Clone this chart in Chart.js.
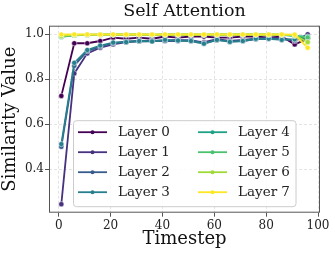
<!DOCTYPE html>
<html>
<head>
<meta charset="utf-8">
<script src="https://cdn.jsdelivr.net/npm/chart.js@4.4.1/dist/chart.umd.min.js"></script>
<style>
  html, body { margin: 0; padding: 0; background: #fff; }
  #wrap { width: 335px; height: 254px; }
</style>
</head>
<body>
<div id="wrap"><canvas id="myChart" width="335" height="254"></canvas></div>
<script>
// data
const timesteps = [1, 6, 11, 16, 21, 26, 31, 36, 41, 46, 51, 56, 61, 66, 71, 76, 81, 86, 91, 96];
const layer0 = [0.726, 0.960, 0.960, 0.970, 0.985, 0.980, 0.985, 0.980, 0.990, 0.985, 0.990, 0.990, 0.985, 0.985, 0.990, 0.990, 0.985, 0.990, 0.955, 0.980];
const layer1 = [0.245, 0.826, 0.915, 0.940, 0.955, 0.965, 0.968, 0.970, 0.972, 0.975, 0.970, 0.965, 0.978, 0.970, 0.975, 0.980, 0.985, 0.982, 0.970, 1.000];
const layer2 = [0.500, 0.860, 0.925, 0.945, 0.960, 0.968, 0.970, 0.972, 0.970, 0.970, 0.975, 0.960, 0.975, 0.968, 0.970, 0.978, 0.980, 0.978, 0.975, 0.985];
const layer3 = [0.512, 0.873, 0.930, 0.950, 0.963, 0.965, 0.970, 0.968, 0.975, 0.972, 0.970, 0.958, 0.975, 0.966, 0.970, 0.980, 0.980, 0.975, 0.978, 0.985];
const layer4 = [0.988, 0.995, 0.997, 0.998, 0.998, 0.998, 0.998, 0.997, 0.998, 0.998, 0.998, 0.997, 0.998, 0.998, 0.998, 0.998, 0.998, 0.997, 0.992, 0.990];
const layer5 = [0.990, 0.996, 0.997, 0.998, 0.998, 0.998, 0.998, 0.998, 0.998, 0.998, 0.998, 0.998, 0.998, 0.998, 0.998, 0.998, 0.998, 0.998, 0.994, 0.985];
const layer6 = [0.992, 0.997, 0.998, 0.998, 0.999, 0.999, 0.999, 0.998, 0.999, 0.999, 0.999, 0.998, 0.999, 0.999, 0.999, 0.999, 0.999, 0.998, 0.995, 0.965];
const layer7 = [0.999, 0.999, 0.999, 0.999, 0.999, 0.999, 0.999, 0.999, 0.999, 0.999, 0.999, 0.999, 0.999, 0.999, 0.999, 0.999, 0.999, 0.999, 0.998, 0.940];
const layerNames = ["Layer 0", "Layer 1", "Layer 2", "Layer 3", "Layer 4", "Layer 5", "Layer 6", "Layer 7"];
const layerValues = [layer0, layer1, layer2, layer3, layer4, layer5, layer6, layer7];
const xTicks = [0, 20, 40, 60, 80, 100];
const yTicks = [0.4, 0.6, 0.8, 1.0];

const colors = ["#440154", "#46327e", "#365c8d", "#277f8e", "#1fa187", "#4ac16d", "#a0da39", "#fde725"];
const serif = "'DejaVu Serif', serif";

// full box round the plot, like matplotlib spines
const boxPlugin = {
  id: 'box',
  afterDatasetsDraw(chart) {
    const a = chart.chartArea, ctx = chart.ctx;
    ctx.save();
    ctx.strokeStyle = '#555';
    ctx.lineWidth = 1;
    ctx.strokeRect(a.left + 0.5, a.top + 0.5, a.right - a.left - 1, a.bottom - a.top - 1);
    ctx.restore();
  }
};

// legend inside the axes, two columns
const innerLegend = {
  id: 'innerLegend',
  afterDraw(chart) {
    const ctx = chart.ctx, a = chart.chartArea;
    const x0 = a.left + 24.5, y0 = a.top + 95, w = 222.5, h = 86;
    ctx.save();
    ctx.beginPath();
    ctx.roundRect(x0, y0, w, h, 3);
    ctx.fillStyle = 'rgba(255,255,255,0.85)';
    ctx.fill();
    ctx.strokeStyle = '#cccccc';
    ctx.lineWidth = 1;
    ctx.stroke();
    chart.data.datasets.forEach((ds, i) => {
      const col = Math.floor(i / 4), row = i % 4;
      const lx = x0 + 4.5 + col * 120, ly = y0 + 11.5 + row * 20;
      ctx.strokeStyle = ds.borderColor;
      ctx.lineWidth = 1.8;
      ctx.beginPath();
      ctx.moveTo(lx, ly);
      ctx.lineTo(lx + 29, ly);
      ctx.stroke();
      ctx.fillStyle = ds.borderColor;
      ctx.beginPath();
      ctx.arc(lx + 14.5, ly, 2, 0, Math.PI * 2);
      ctx.fill();
      ctx.fillStyle = '#222';
      ctx.font = '13.5px ' + serif;
      ctx.textBaseline = 'middle';
      ctx.fillText(ds.label, lx + 40, ly + 0.5);
    });
    ctx.restore();
  }
};

const datasets = layerValues.map((vals, i) => ({
  label: layerNames[i],
  data: timesteps.map((t, k) => ({ x: t, y: vals[k] })),
  borderColor: colors[i],
  backgroundColor: colors[i],
  borderWidth: 1.8,
  pointRadius: 2.6,
  pointBorderColor: '#ffffff',
  pointBorderWidth: 0.5,
  pointBackgroundColor: colors[i],
  fill: false,
  tension: 0,
  order: 7 - i
}));

const chart = new Chart(document.getElementById('myChart'), {
  type: 'line',
  data: { datasets: datasets },
  options: {
    responsive: false,
    animation: false,
    devicePixelRatio: 1,
    layout: { padding: { left: 0, right: 15, top: 0, bottom: 0 } },
    plugins: {
      legend: { display: false },
      tooltip: { enabled: false },
      title: {
        display: true,
        text: 'Self Attention',
        fullSize: false,
        color: '#111',
        font: { family: serif, size: 17.5, weight: 'normal' },
        padding: { top: 1, bottom: 3.7 }
      }
    },
    scales: {
      x: {
        type: 'linear',
        min: -3.75,
        max: 100.75,
        afterBuildTicks: s => { s.ticks = xTicks.map(v => ({ value: v })); },
        afterFit: s => { s.height = 41.3; },
        ticks: { color: '#222', font: { family: serif, size: 12 }, padding: 2, maxRotation: 0, autoSkip: false },
        grid: { color: '#e3e3e3', tickColor: '#555', tickLength: 4, lineWidth: 1 },
        border: { display: false, dash: [3, 2] },
        title: { display: true, text: 'Timestep', color: '#111', font: { family: serif, size: 18 }, padding: { top: 0, bottom: 4 } }
      },
      y: {
        min: 0.207,
        max: 1.038,
        afterBuildTicks: s => { s.ticks = yTicks.map(v => ({ value: v })); },
        afterFit: s => { s.width = 49; },
        ticks: { color: '#222', font: { family: serif, size: 12 }, padding: 1, callback: v => v.toFixed(1) },
        grid: { color: '#e3e3e3', tickColor: '#555', tickLength: 4, lineWidth: 1 },
        border: { display: false, dash: [3, 2] },
        title: { display: true, text: 'Similarity Value', color: '#111', font: { family: serif, size: 18 }, padding: { top: 0, bottom: 0 } }
      }
    }
  },
  plugins: [boxPlugin, innerLegend]
});
</script>
</body>
</html>
